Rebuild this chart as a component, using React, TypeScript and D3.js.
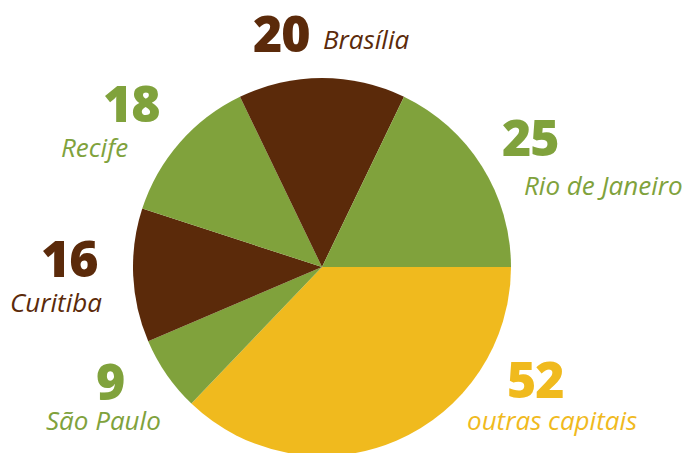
import React from "react";
import * as d3 from "d3";

const cities = ["outras capitais", "São Paulo", "Curitiba", "Recife", "Brasília", "Rio de Janeiro"];
const values = [52, 9, 16, 18, 20, 25];
const colors = ["#f0ba1e", "#80a23c", "#5b2a0a", "#80a23c", "#5b2a0a", "#80a23c"];

// label placement: [numX, numY, nameX, nameY]
const labelPos: Record<string, [number, number, number, number]> = {
  "outras capitais": [507, 398, 467, 430],
  "São Paulo": [96, 400, 46, 430],
  "Curitiba": [41, 277, 10, 312],
  "Recife": [103, 122, 61, 157],
  "Brasília": [253, 52, 323, 49],
  "Rio de Janeiro": [502, 156, 524, 195],
};

export default function App() {
  const W = 689, H = 453;
  const cx = 322, cy = 267, r = 189;
  const data = cities.map((c, i) => ({ city: c, value: values[i], color: colors[i] }));
  const pie = d3
    .pie<{ city: string; value: number; color: string }>()
    .sort(null)
    .value((d) => d.value)
    .startAngle(Math.PI / 2)
    .endAngle(Math.PI / 2 + 2 * Math.PI);
  const arcs = pie(data);
  const arc = d3.arc<d3.PieArcDatum<any>>().innerRadius(0).outerRadius(r);
  return (
    <svg width={W} height={H} style={{ position: "absolute", left: 0, top: 0, display: "block" }}>
      <rect width={W} height={H} fill="#fff" />
      <g transform={`translate(${cx},${cy})`}>
        {arcs.map((a, i) => (
          <path key={i} d={arc(a) as string} fill={a.data.color} />
        ))}
      </g>
      {arcs.map((a, i) => {
        const p = labelPos[a.data.city];
        return (
          <g key={"l" + i} fill={a.data.color} fontFamily="'Open Sans', sans-serif">
            <text x={p[0]} y={p[1]} fontSize={50} fontWeight={800} letterSpacing={-1}>
              {a.data.value}
            </text>
            <text x={p[2]} y={p[3]} fontSize={26} fontStyle="italic">
              {a.data.city}
            </text>
          </g>
        );
      })}
    </svg>
  );
}
